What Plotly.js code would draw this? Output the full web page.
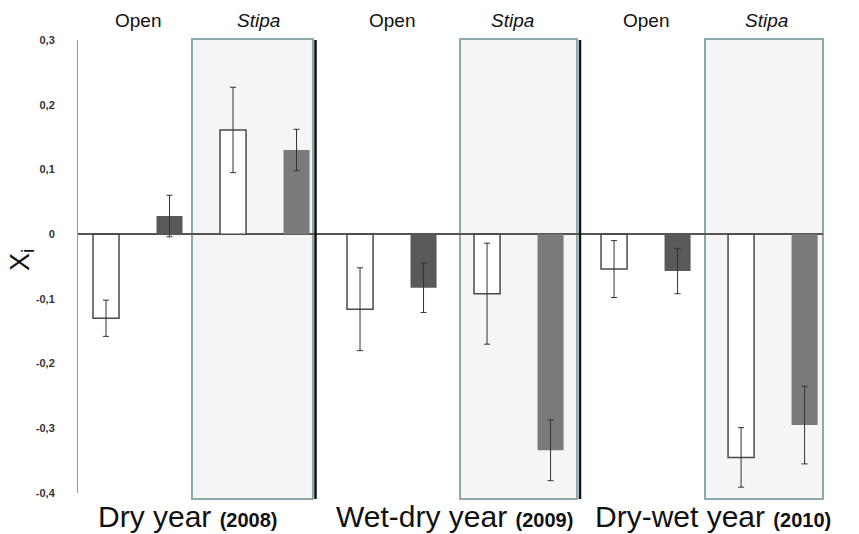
<!DOCTYPE html>
<html>
<head>
<meta charset="utf-8">
<script src="https://cdn.plot.ly/plotly-3.0.1.min.js"></script>
<style>html,body{margin:0;padding:0;background:#fff;}#chart{width:859px;height:534px;}</style>
</head>
<body>
<div id="chart"></div>
<script>
// ---- data ----
const years = ['Dry year', 'Wet-dry year', 'Dry-wet year'];
const yearLabels = ['(2008)', '(2009)', '(2010)'];
const groupLabels = ['Open', 'Stipa'];

const openWhite     = [-0.130, -0.116, -0.054];
const openWhiteErr  = [0.028, 0.064, 0.044];
const openGrey      = [0.028, -0.083, -0.057];
const openGreyErr   = [0.032, 0.038, 0.035];
const stipaWhite    = [0.161, -0.092, -0.345];
const stipaWhiteErr = [0.066, 0.078, 0.046];
const stipaGrey     = [0.130, -0.334, -0.295];
const stipaGreyErr  = [0.032, 0.047, 0.060];

const yTickVals = [-0.4, -0.3, -0.2, -0.1, 0, 0.1, 0.2, 0.3];
const yTickText = ['-0,4', '-0,3', '-0,2', '-0,1', '0', '0,1', '0,2', '0,3'];

// ---- build ----
const pos = (slot) => years.map((_, g) => g * 4 + slot);
const errStyle = (arr) => ({type: 'data', array: arr, visible: true, color: '#333', thickness: 1, width: 3});

const traces = [
  {type: 'bar', name: 'Open control', x: pos(0), y: openWhite, width: 0.41,
   marker: {color: '#ffffff', line: {color: '#4a4a4a', width: 1.5}}, error_y: errStyle(openWhiteErr)},
  {type: 'bar', name: 'Open treatment', x: pos(1), y: openGrey, width: 0.41,
   marker: {color: '#595959', line: {color: '#595959', width: 0}}, error_y: errStyle(openGreyErr)},
  {type: 'bar', name: 'Stipa control', x: pos(2), y: stipaWhite, width: 0.41,
   marker: {color: '#ffffff', line: {color: '#4a4a4a', width: 1.5}}, error_y: errStyle(stipaWhiteErr)},
  {type: 'bar', name: 'Stipa treatment', x: pos(3), y: stipaGrey, width: 0.41,
   marker: {color: '#7a7a7a', line: {color: '#7a7a7a', width: 0}}, error_y: errStyle(stipaGreyErr)}
];

// Stipa boxes (paper coords)
const boxes = [[0.153, 0.3154], [0.5128, 0.6698], [0.8416, 1.0]];
const shapes = [];
boxes.forEach(b => {
  shapes.push({type: 'rect', xref: 'paper', yref: 'paper', x0: b[0], x1: b[1], y0: -0.0135, y1: 1.002,
    fillcolor: '#f5f5f5', line: {color: '#8ea9ab', width: 2}, layer: 'below'});
});
[0.3188, 0.6738].forEach(xp => {
  shapes.push({type: 'line', xref: 'paper', yref: 'paper', x0: xp, x1: xp, y0: -0.0135, y1: 1.0,
    line: {color: '#111', width: 2.5}, layer: 'above'});
});

const annotations = [];
const baseFont = 'Arial, "Liberation Sans", sans-serif';
const bottomOffsets = [1.29, 1.48, 1.55];
years.forEach((yr, g) => {
  annotations.push({xref: 'x', yref: 'paper', x: g * 4 + 0.5, y: 1.044, yanchor: 'middle', xanchor: 'center',
    text: groupLabels[0], showarrow: false,
    font: {family: baseFont, size: 19, color: '#111'}});
  annotations.push({xref: 'x', yref: 'paper', x: g * 4 + 2.4, y: 1.044, yanchor: 'middle', xanchor: 'center',
    text: '<i>' + groupLabels[1] + '</i>', showarrow: false,
    font: {family: baseFont, size: 19, color: '#111'}});
  annotations.push({xref: 'x', yref: 'paper', x: g * 4 + bottomOffsets[g], y: -0.052, yanchor: 'middle', xanchor: 'center',
    showarrow: false,
    text: yr + ' <b><span style="font-size:20px">' + yearLabels[g] + '</span></b>',
    font: {family: baseFont, size: 30, color: '#111'}});
});
annotations.push({xref: 'paper', yref: 'paper', x: -0.076, y: 0.515, xanchor: 'center', yanchor: 'middle',
  textangle: -90, showarrow: false,
  text: 'X<sub>i</sub>', font: {family: baseFont, size: 27, color: '#111'}});

const layout = {
  width: 859, height: 534,
  margin: {l: 78, r: 36, t: 40, b: 41},
  paper_bgcolor: '#ffffff', plot_bgcolor: 'rgba(0,0,0,0)',
  showlegend: false, barmode: 'overlay',
  xaxis: {range: [-0.441, 11.29], showgrid: false, zeroline: false, showline: false,
    showticklabels: false, ticks: ''},
  yaxis: {range: [-0.4, 0.3], tickvals: yTickVals, ticktext: yTickText, showgrid: false,
    zeroline: true, zerolinecolor: '#555', zerolinewidth: 1.5,
    showline: true, linecolor: '#9a9a9a', linewidth: 1,
    ticks: 'outside', ticklen: 20, tickcolor: 'rgba(0,0,0,0)',
    tickfont: {family: baseFont, size: 11, color: '#333', weight: 'bold'}},
  shapes: shapes,
  annotations: annotations
};

Plotly.newPlot('chart', traces, layout, {displayModeBar: false, staticPlot: true});
</script>
</body>
</html>
